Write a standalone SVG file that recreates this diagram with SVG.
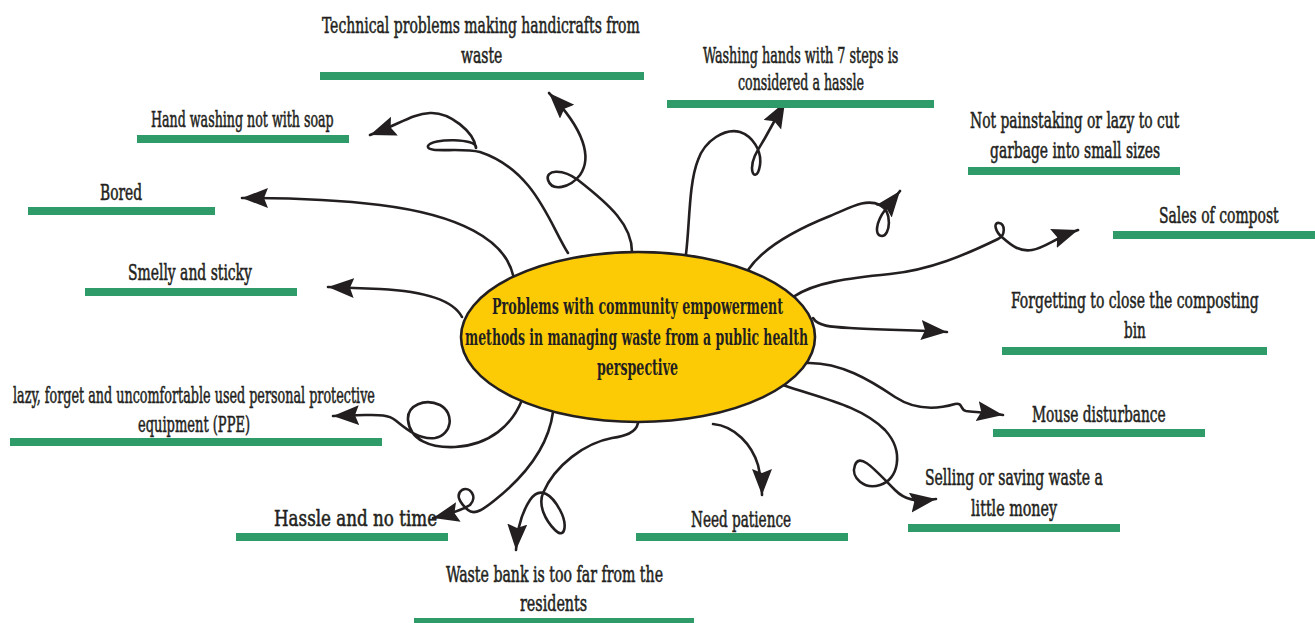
<svg xmlns="http://www.w3.org/2000/svg" width="1315" height="623" viewBox="0 0 1315 623">
<defs>
<style>
.lbl{font-family:'DejaVu Serif Condensed','DejaVu Serif','Liberation Serif',serif;font-stretch:condensed;font-size:23px;fill:#231f20;stroke:#231f20;stroke-width:0.55;}
.ctr{font-family:'DejaVu Serif Condensed','DejaVu Serif','Liberation Serif',serif;font-stretch:condensed;font-size:22px;font-weight:bold;fill:#231f20;}
.bar{fill:#2e9b68;}
.con{fill:none;stroke:#231f20;stroke-width:2.6;stroke-linecap:round;stroke-linejoin:round;marker-end:url(#ah);}
</style>
<marker id="ah" markerUnits="userSpaceOnUse" markerWidth="30" markerHeight="22" refX="26" refY="10" orient="auto" viewBox="0 0 30 22">
<path d="M0,0 L26,10 L0,20 L4,10 Z" fill="#231f20"/>
</marker>
</defs>
<rect width="1315" height="623" fill="#ffffff"/>

<g id="connectors">
<path class="con" d="M568,253 C550,225 535,170 480,152 C460,147 426,154 428,146 C431,138 478,138 476,148 C474,132 450,112 430,113 C412,114 400,124 370,135"/>
<path class="con" d="M632,252 C632,225 610,205 578,180 C562,168 545,170 548,180 C552,192 570,188 580,175 C592,158 585,130 549,93"/>
<path class="con" d="M685,262 C690,230 688,185 698,160 C705,140 725,128 740,132 C752,136 762,150 760,165 C758,178 752,177 752,168 C752,158 758,150 765,138 L785,102"/>
<path class="con" d="M748,270 C765,245 800,228 830,216 C850,208 865,198 880,205 C893,212 890,236 882,236 C874,236 876,222 885,210 L900,191"/>
<path class="con" d="M793,297 C815,282 850,278 890,274 C930,270 965,255 998,239 C1006,235 1005,224 999,223 C993,222 995,232 1003,238 C1012,246 1020,252 1032,250 C1045,248 1055,238 1078,230"/>
<path class="con" d="M813,318 C818,326 830,327 850,328 C880,330 920,330 947,332"/>
<path class="con" d="M807,363 C840,362 870,380 895,397 C915,410 935,410 955,404 C963,402 960,410 966,411 C975,412 990,413 1003,415"/>
<path class="con" d="M783,385 C820,398 860,405 885,430 C905,452 898,480 880,485 C865,490 850,478 855,465 C860,452 875,470 895,490 C905,500 915,502 936,499"/>
<path class="con" d="M713,424 C735,426 752,445 758,465 C761,478 762,488 762,495"/>
<path class="con" d="M638,423 C636,433 625,436 612,438 C585,443 555,465 543,493 C538,505 545,520 555,530 C565,540 568,525 560,510 C552,495 540,485 530,500 C522,512 517,530 516,550"/>
<path class="con" d="M553,412 C548,450 520,480 495,500 C485,508 475,516 468,510 C460,503 455,495 462,490 C470,486 478,497 470,505 C462,510 450,514 433,518"/>
<path class="con" d="M522,400 C512,425 490,445 455,447 C430,448 410,440 408,420 C407,405 425,398 440,405 C455,413 452,435 435,438 C418,440 405,428 395,420 C388,414 375,415 365,415 L333,416"/>
<path class="con" d="M462,317 C452,298 420,291 380,289 L328,287"/>
<path class="con" d="M513,275 C505,240 460,215 380,205 C330,199 290,198 242,198"/>
</g>

<g id="center">
<ellipse cx="638" cy="337" rx="177" ry="85" fill="#fdcb06" stroke="#231f20" stroke-width="2.6"/>
<text class="ctr" x="492" y="314" textLength="291" lengthAdjust="spacingAndGlyphs">Problems with community empowerment</text>
<text class="ctr" x="465" y="345" textLength="343" lengthAdjust="spacingAndGlyphs">methods in managing waste from a public health</text>
<text class="ctr" x="597" y="375" textLength="81" lengthAdjust="spacingAndGlyphs">perspective</text>
</g>

<g id="n-technical">
<text class="lbl" transform="translate(322,33) scale(0.7,1)" textLength="454" lengthAdjust="spacingAndGlyphs">Technical problems making handicrafts from</text>
<text class="lbl" transform="translate(461,63) scale(0.7,1)" textLength="59" lengthAdjust="spacingAndGlyphs">waste</text>
<rect class="bar" x="320" y="72" width="324" height="8"/>
</g>
<g id="n-washing7">
<text class="lbl" transform="translate(703,63) scale(0.7,1)" textLength="279" lengthAdjust="spacingAndGlyphs">Washing hands with 7 steps is</text>
<text class="lbl" transform="translate(738,90) scale(0.7,1)" textLength="180" lengthAdjust="spacingAndGlyphs">considered a hassle</text>
<rect class="bar" x="667" y="100" width="267" height="8"/>
</g>
<g id="n-soap">
<text class="lbl" transform="translate(151,127) scale(0.7,1)" textLength="261" lengthAdjust="spacingAndGlyphs">Hand washing not with soap</text>
<rect class="bar" x="137" y="135" width="212" height="8"/>
</g>
<g id="n-bored">
<text class="lbl" transform="translate(100,200) scale(0.7,1)" textLength="60" lengthAdjust="spacingAndGlyphs">Bored</text>
<rect class="bar" x="28" y="207" width="187" height="8"/>
</g>
<g id="n-smelly">
<text class="lbl" transform="translate(128,280) scale(0.7,1)" textLength="177" lengthAdjust="spacingAndGlyphs">Smelly and sticky</text>
<rect class="bar" x="85" y="288" width="212" height="8"/>
</g>
<g id="n-ppe">
<text class="lbl" transform="translate(13,403) scale(0.7,1)" textLength="517" lengthAdjust="spacingAndGlyphs">lazy, forget and uncomfortable used personal protective</text>
<text class="lbl" transform="translate(138,432) scale(0.7,1)" textLength="160" lengthAdjust="spacingAndGlyphs">equipment (PPE)</text>
<rect class="bar" x="10" y="438" width="372" height="8"/>
</g>
<g id="n-hassle">
<text class="lbl" transform="translate(274,526) scale(0.7,1)" textLength="233" lengthAdjust="spacingAndGlyphs">Hassle and no time</text>
<rect class="bar" x="236" y="533" width="212" height="8"/>
</g>
<g id="n-wastebank">
<text class="lbl" transform="translate(446,582) scale(0.7,1)" textLength="310" lengthAdjust="spacingAndGlyphs">Waste bank is too far from the</text>
<text class="lbl" transform="translate(520,611) scale(0.7,1)" textLength="96" lengthAdjust="spacingAndGlyphs">residents</text>
<rect class="bar" x="414" y="618" width="280" height="8"/>
</g>
<g id="n-patience">
<text class="lbl" transform="translate(691,527) scale(0.7,1)" textLength="143" lengthAdjust="spacingAndGlyphs">Need patience</text>
<rect class="bar" x="636" y="533" width="212" height="8"/>
</g>
<g id="n-selling">
<text class="lbl" transform="translate(925,485) scale(0.7,1)" textLength="254" lengthAdjust="spacingAndGlyphs">Selling or saving waste a</text>
<text class="lbl" transform="translate(971,516) scale(0.7,1)" textLength="123" lengthAdjust="spacingAndGlyphs">little money</text>
<rect class="bar" x="908" y="524" width="212" height="8"/>
</g>
<g id="n-mouse">
<text class="lbl" transform="translate(1032,422) scale(0.7,1)" textLength="191" lengthAdjust="spacingAndGlyphs">Mouse disturbance</text>
<rect class="bar" x="993" y="429" width="212" height="8"/>
</g>
<g id="n-forgetting">
<text class="lbl" transform="translate(1011,308) scale(0.7,1)" textLength="354" lengthAdjust="spacingAndGlyphs">Forgetting to close the composting</text>
<text class="lbl" transform="translate(1124,338) scale(0.7,1)" textLength="31" lengthAdjust="spacingAndGlyphs">bin</text>
<rect class="bar" x="1002" y="347" width="265" height="8"/>
</g>
<g id="n-sales">
<text class="lbl" transform="translate(1159,223) scale(0.7,1)" textLength="171" lengthAdjust="spacingAndGlyphs">Sales of compost</text>
<rect class="bar" x="1113" y="231" width="202" height="8"/>
</g>
<g id="n-painstaking">
<text class="lbl" transform="translate(970,128) scale(0.7,1)" textLength="299" lengthAdjust="spacingAndGlyphs">Not painstaking or lazy to cut</text>
<text class="lbl" transform="translate(990,158) scale(0.7,1)" textLength="243" lengthAdjust="spacingAndGlyphs">garbage into small sizes</text>
<rect class="bar" x="968" y="167" width="212" height="8"/>
</g>
</svg>
